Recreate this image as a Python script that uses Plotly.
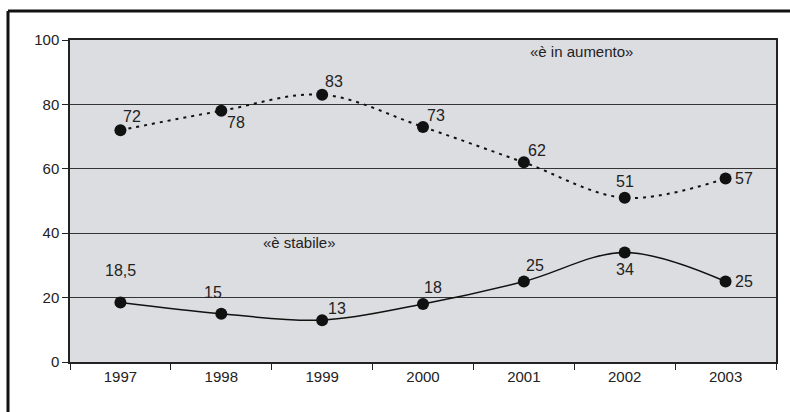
import plotly.graph_objects as go

years = ["1997", "1998", "1999", "2000", "2001", "2002", "2003"]
aumento = [72, 78, 83, 73, 62, 51, 57]
stabile = [18.5, 15, 13, 18, 25, 34, 25]
aumento_labels = ["72", "78", "83", "73", "62", "51", "57"]
stabile_labels = ["18,5", "15", "13", "18", "25", "34", "25"]
y_ticks = [0, 20, 40, 60, 80, 100]

# label offsets (pixels) for each point: (xshift, yshift)
aum_off = [(12, 14), (15, -12), (12, 13), (13, 11), (13, 12), (0, 16), (18, 0)]
sta_off = [(0, 32), (-8, 21), (15, 12), (10, 17), (11, 16), (0, -17), (18, 0)]

font = "Liberation Sans, Arial, sans-serif"
fig = go.Figure()
fig.add_trace(go.Scatter(
    x=years, y=aumento, mode="lines+markers",
    line=dict(color="#111", width=2, dash="3px,5px", shape="spline", smoothing=1),
    marker=dict(color="#111", size=12), showlegend=False, cliponaxis=False))
fig.add_trace(go.Scatter(
    x=years, y=stabile, mode="lines+markers",
    line=dict(color="#111", width=1.5, shape="spline", smoothing=1),
    marker=dict(color="#111", size=12), showlegend=False, cliponaxis=False))

anns = []
for i, (v, t, (dx, dy)) in enumerate(zip(aumento, aumento_labels, aum_off)):
    anns.append(dict(x=i, y=v, text=t, showarrow=False, xshift=dx, yshift=dy,
                     xanchor="center", yanchor="middle",
                     font=dict(size=16, color="#222", family=font)))
for i, (v, t, (dx, dy)) in enumerate(zip(stabile, stabile_labels, sta_off)):
    anns.append(dict(x=i, y=v, text=t, showarrow=False, xshift=dx, yshift=dy,
                     xanchor="center", yanchor="middle",
                     font=dict(size=16, color="#222", family=font)))
anns.append(dict(x=0.725, y=0.963, xref="paper", yref="paper", text="«è in aumento»",
                 xanchor="center", yanchor="middle",
                 showarrow=False, font=dict(size=15, color="#222", family=font)))
anns.append(dict(x=0.325, y=0.372, xref="paper", yref="paper", text="«è stabile»",
                 xanchor="center", yanchor="middle",
                 showarrow=False, font=dict(size=15, color="#222", family=font)))

# plot area: x 70..776, y 40..362 in a 790x412 page
frame = dict(color="#111", width=3)
fx = (8 - 70) / 706
fy = 1 + (40 - 11) / 322
fig.update_layout(
    width=790, height=412,
    margin=dict(l=70, r=14, t=40, b=50),
    paper_bgcolor="white", plot_bgcolor="#dcdde0",
    font=dict(family=font, size=15, color="#222"),
    annotations=anns,
    shapes=[
        dict(type="line", xref="paper", yref="paper", x0=fx, x1=1.03,
             y0=fy, y1=fy, line=frame, layer="below"),
        dict(type="line", xref="paper", yref="paper", x0=fx, x1=fx,
             y0=-0.2, y1=fy, line=frame, layer="below"),
    ],
    xaxis=dict(type="category", tickson="boundaries", ticks="outside", ticklen=6,
               tickcolor="#222", showline=True, linecolor="#222", linewidth=1.5,
               mirror=True, showgrid=False, tickfont=dict(size=15),
               range=[-0.5, 6.5]),
    yaxis=dict(range=[0, 100], tickvals=y_ticks, ticks="outside", ticklen=6,
               tickcolor="#222", showline=True, linecolor="#222", linewidth=1.5,
               mirror=True, showgrid=True, gridcolor="#333", gridwidth=1,
               zeroline=False, tickfont=dict(size=15)),
)
fig.write_html("out.html", config={"displayModeBar": False},
               post_script="document.body.style.margin='0';document.body.style.overflow='hidden';")
